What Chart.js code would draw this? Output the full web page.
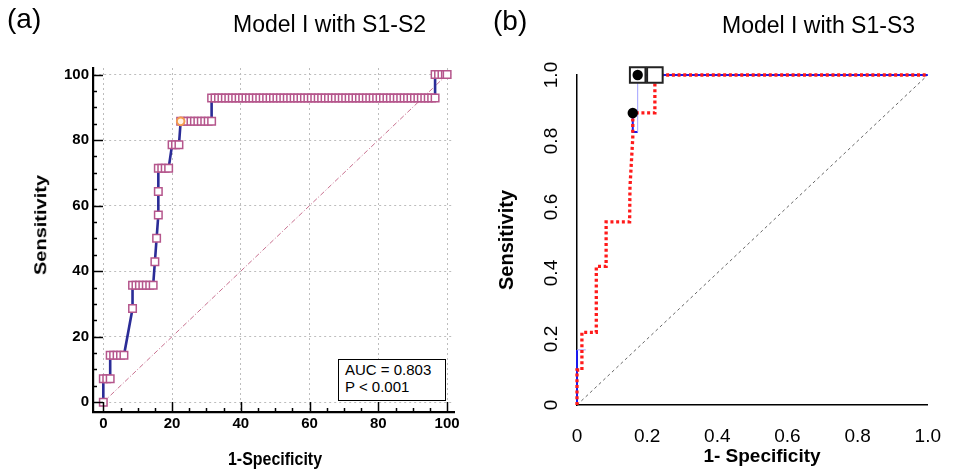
<!DOCTYPE html>
<html>
<head>
<meta charset="utf-8">
<script src="https://cdn.jsdelivr.net/npm/chart.js@4.4.1/dist/chart.umd.min.js"></script>
<style>
  body { margin: 0; background: #fff; }
  #wrap { position: relative; width: 953px; height: 470px; overflow: hidden; font-family: "Liberation Sans", Arial, sans-serif; }
  canvas { position: absolute; top: 0; }
  .txt { position: absolute; white-space: nowrap; color: #000; }
  .bold { font-weight: bold; }
  #auc { position: absolute; left: 338px; top: 359px; width: 108px; height: 42px; box-sizing: border-box;
         border: 1.5px solid #000; background: #fff; font-size: 15px; line-height: 17px; padding: 1px 0 0 6px; }
</style>
</head>
<body>
<div id="wrap">
  <canvas id="chartA" width="480" height="470" style="left:0"></canvas>
  <canvas id="chartB" width="473" height="470" style="left:480px"></canvas>

  <div class="txt" style="left:7px;top:5px;font-size:28px;line-height:28px">(a)</div>
  <div class="txt" style="left:233px;top:12.5px;font-size:23px;line-height:23px">Model I with S1-S2</div>
  <div class="txt" style="left:493px;top:7px;font-size:28px;line-height:28px">(b)</div>
  <div class="txt" style="left:722px;top:13.5px;font-size:23px;line-height:23px">Model I with S1-S3</div>

  <div class="txt bold" style="left:275px;top:449px;font-size:19px;line-height:19px;transform:translateX(-50%) scaleX(0.84)">1-Specificity</div>
  <div class="txt bold" style="left:41px;top:225px;font-size:20px;line-height:20px;transform:translate(-50%,-50%) rotate(-90deg) scaleY(0.8)">Sensitivity</div>
  <div class="txt bold" style="left:762px;top:445.5px;font-size:19px;line-height:19px;transform:translateX(-50%)">1- Specificity</div>
  <div class="txt bold" style="left:506px;top:240px;font-size:20px;line-height:20px;transform:translate(-50%,-50%) rotate(-90deg)">Sensitivity</div>

  <div id="auc">AUC = 0.803<br>P &lt; 0.001</div>
</div>

<script>
// (a) ROC curve, values in %
const tickValuesA = [0, 5, 10, 15, 20, 25, 30, 35, 40, 45, 50, 55, 60, 65, 70, 75, 80, 85, 90, 95, 100];
const sensLevelsA = [0, 7.14, 14.29, 28.57, 35.71, 42.86, 50, 57.14, 64.29, 71.43, 78.57, 85.71, 92.86, 100];
// 1-specificity of every marker on each sensitivity level
const fprAtLevelA = [
    [0],
    [0, 1, 2],
    [2, 3, 4, 5, 6],
    [8.5],
    [8.5, 9.5, 10.5, 11.5, 12.5, 13.5, 14.5],
    [15],
    [15.5],
    [16],
    [16],
    [16, 17, 18, 19],
    [20, 21, 22],
    [22.5, 23.5, 24.5, 25.5, 26.5, 27.5, 28.5, 29.5, 30.5, 31.5],
    [31.5, 32.5, 33.5, 34.5, 35.5, 36.5, 37.5, 38.5, 39.5, 40.5, 41.5, 42.5, 43.5, 44.5, 45.5, 46.5,
     47.5, 48.5, 49.5, 50.5, 51.5, 52.5, 53.5, 54.5, 55.5, 56.5, 57.5, 58.5, 59.5, 60.5, 61.5, 62.5,
     63.5, 64.5, 65.5, 66.5, 67.5, 68.5, 69.5, 70.5, 71.5, 72.5, 73.5, 74.5, 75.5, 76.5, 77.5, 78.5,
     79.5, 80.5, 81.5, 82.5, 83.5, 84.5, 85.5, 86.5, 87.5, 88.5, 89.5, 90.5, 91.5, 92.5, 93.5, 94.5,
     95.5, 96.5],
    [96.5, 97.5, 98.5, 99.5, 100]
];
const cutoffFprA = [22.5];
const cutoffSensA = [85.71];
const chanceA = [0, 100];

// (b) ROC curves, values as fractions
const tickValuesB = [0, 0.2, 0.4, 0.6, 0.8, 1.0];
const tickLabelsB = ['0', '0.2', '0.4', '0.6', '0.8', '1.0'];
const fprRedB  = [0, 0, 0.014, 0.014, 0.055, 0.055, 0.083, 0.083, 0.15, 0.151, 0.159, 0.159, 0.222, 0.222, 1];
const sensRedB = [0, 0.106, 0.106, 0.22, 0.22, 0.42, 0.42, 0.555, 0.555, 0.66, 0.81, 0.885, 0.885, 1, 1];
const fprBlueB  = [0, 0, 0.025, null, 0.159, 0.159, 0.173, 0.173, 1];
const sensBlueB = [0, 0.167, 0.167, null, 0.885, 0.827, 0.827, 1, 1];
const fprDotsB  = [0.173, 0.159];
const sensDotsB = [1, 0.885];
const fprBoxesB  = [0.173, 0.222];
const sensBoxesB = [1, 1];
const chanceB = [0, 1];

Chart.defaults.font.family = '"Liberation Sans", Arial, sans-serif';

const toPoints = (xs, ys) => xs.map((x, i) => ({ x: x, y: ys[i] }));

const rocA = [];
sensLevelsA.forEach((s, i) => {
    fprAtLevelA[i].forEach(f => rocA.push({ x: f, y: s }));
});

// inward major/minor tick marks on the (a) axes
const innerTicks = {
    id: 'innerTicks',
    afterDraw(chart) {
        const { ctx, chartArea, scales } = chart;
        ctx.save();
        ctx.strokeStyle = '#000';
        ctx.lineWidth = 1.5;
        scales.x.ticks.forEach(t => {
            const px = Math.round(scales.x.getPixelForValue(t.value)) + 0.5;
            const len = t.value % 20 === 0 ? 10 : 4;
            ctx.beginPath();
            ctx.moveTo(px, chartArea.bottom);
            ctx.lineTo(px, chartArea.bottom - len);
            ctx.stroke();
        });
        scales.y.ticks.forEach(t => {
            const py = Math.round(scales.y.getPixelForValue(t.value)) + 0.5;
            const len = t.value % 20 === 0 ? 10 : 4;
            ctx.beginPath();
            ctx.moveTo(chartArea.left, py);
            ctx.lineTo(chartArea.left + len, py);
            ctx.stroke();
        });
        ctx.restore();
    }
};

const gridColorA = c => (c.tick && c.tick.value % 20 === 0) ? '#bdbdbd' : 'rgba(0,0,0,0)';

new Chart(document.getElementById('chartA'), {
    type: 'scatter',
    data: {
        datasets: [
            {
                data: toPoints(cutoffFprA, cutoffSensA),
                pointStyle: 'circle',
                pointRadius: 3.8,
                pointBorderWidth: 2,
                pointBorderColor: '#f39a4f',
                pointBackgroundColor: '#fff3e6'
            },
            {
                data: rocA,
                showLine: true,
                borderColor: '#2b2c97',
                borderWidth: 2.6,
                pointStyle: 'rect',
                pointRadius: 5.3,
                pointBorderWidth: 1.5,
                pointBorderColor: '#b5568c',
                pointBackgroundColor: '#ffffff'
            },
            {
                data: toPoints(chanceA, chanceA),
                showLine: true,
                borderColor: '#c8708f',
                borderWidth: 1,
                borderDash: [5, 2, 1, 2],
                pointRadius: 0
            }
        ]
    },
    options: {
        responsive: false,
        animation: false,
        layout: { padding: { left: 0, right: 26, top: 68, bottom: 0 } },
        plugins: { legend: { display: false }, tooltip: { enabled: false } },
        scales: {
            x: {
                type: 'linear',
                min: -3,
                max: 102,
                afterBuildTicks: s => { s.ticks = tickValuesA.map(v => ({ value: v })); },
                afterFit: s => { s.height = 58; },
                grid: { color: gridColorA, drawTicks: false },
                border: { color: '#000', width: 2.2, dash: [2, 3] },
                ticks: {
                    padding: 3,
                    autoSkip: false,
                    maxRotation: 0,
                    color: '#000',
                    font: { size: 15, weight: 'bold' },
                    callback: v => (v % 20 === 0 ? v : '')
                }
            },
            y: {
                type: 'linear',
                min: -3,
                max: 102,
                afterBuildTicks: s => { s.ticks = tickValuesA.map(v => ({ value: v })); },
                afterFit: s => { s.width = 93; },
                grid: { color: gridColorA, drawTicks: false },
                border: { color: '#000', width: 2.2, dash: [2, 3] },
                ticks: {
                    padding: 4,
                    autoSkip: false,
                    color: '#000',
                    font: { size: 15, weight: 'bold' },
                    callback: v => (v % 20 === 0 ? v : '')
                }
            }
        }
    },
    plugins: [innerTicks]
});

// rotated y tick labels on (b)
const rotatedYLabels = {
    id: 'rotatedYLabels',
    afterDraw(chart) {
        const { ctx, scales } = chart;
        ctx.save();
        ctx.fillStyle = '#000';
        ctx.font = '19px "Liberation Sans", Arial, sans-serif';
        ctx.textAlign = 'center';
        ctx.textBaseline = 'middle';
        scales.y.ticks.forEach((t, i) => {
            ctx.save();
            ctx.translate(72, scales.y.getPixelForValue(t.value));
            ctx.rotate(-Math.PI / 2);
            ctx.fillText(tickLabelsB[i], 0, 0);
            ctx.restore();
        });
        ctx.restore();
    }
};

new Chart(document.getElementById('chartB'), {
    type: 'scatter',
    data: {
        datasets: [
            {
                data: toPoints(fprDotsB, sensDotsB),
                pointStyle: 'circle',
                pointRadius: 5.2,
                pointBorderWidth: 0,
                pointBackgroundColor: '#000',
                clip: false
            },
            {
                data: toPoints(fprBoxesB, sensBoxesB),
                pointStyle: 'rect',
                pointRadius: 11,
                pointBorderWidth: 2,
                pointBorderColor: '#222',
                pointBackgroundColor: '#fff',
                clip: false
            },
            {
                data: toPoints(fprRedB, sensRedB),
                showLine: true,
                borderColor: '#ff1a1a',
                borderWidth: 3.3,
                borderDash: [3, 2.7],
                pointRadius: 0,
                clip: false
            },
            {
                data: toPoints(fprBlueB, sensBlueB),
                showLine: true,
                spanGaps: false,
                borderColor: '#1a1aee',
                borderWidth: 2,
                segment: {
                    borderColor: c => (c.p0DataIndex === 1 || c.p0DataIndex === 6) ? '#a0a0ff' : '#1a1aee',
                    borderWidth: c => (c.p0DataIndex === 1 || c.p0DataIndex === 6) ? 1 : 2
                },
                pointRadius: 0,
                clip: false
            },
            {
                data: toPoints(chanceB, chanceB),
                showLine: true,
                borderColor: '#666',
                borderWidth: 1,
                borderDash: [3, 3],
                pointRadius: 0
            }
        ]
    },
    options: {
        responsive: false,
        animation: false,
        layout: { padding: { left: 0, right: 18, top: 75, bottom: 0 } },
        plugins: { legend: { display: false }, tooltip: { enabled: false } },
        scales: {
            x: {
                type: 'linear',
                min: 0,
                max: 1,
                afterBuildTicks: s => { s.ticks = tickValuesB.map(v => ({ value: v })); },
                afterFit: s => { s.height = 65; },
                grid: { display: false },
                border: { color: '#000', width: 1.5 },
                ticks: {
                    padding: 12,
                    autoSkip: false,
                    maxRotation: 0,
                    color: '#000',
                    font: { size: 19 },
                    callback: (v, i) => tickLabelsB[i]
                }
            },
            y: {
                type: 'linear',
                min: 0,
                max: 1,
                afterBuildTicks: s => { s.ticks = tickValuesB.map(v => ({ value: v })); },
                afterFit: s => { s.width = 97; },
                grid: { display: false },
                border: { color: '#000', width: 1.5 },
                ticks: { display: false }
            }
        }
    },
    plugins: [rotatedYLabels]
});
</script>
</body>
</html>
